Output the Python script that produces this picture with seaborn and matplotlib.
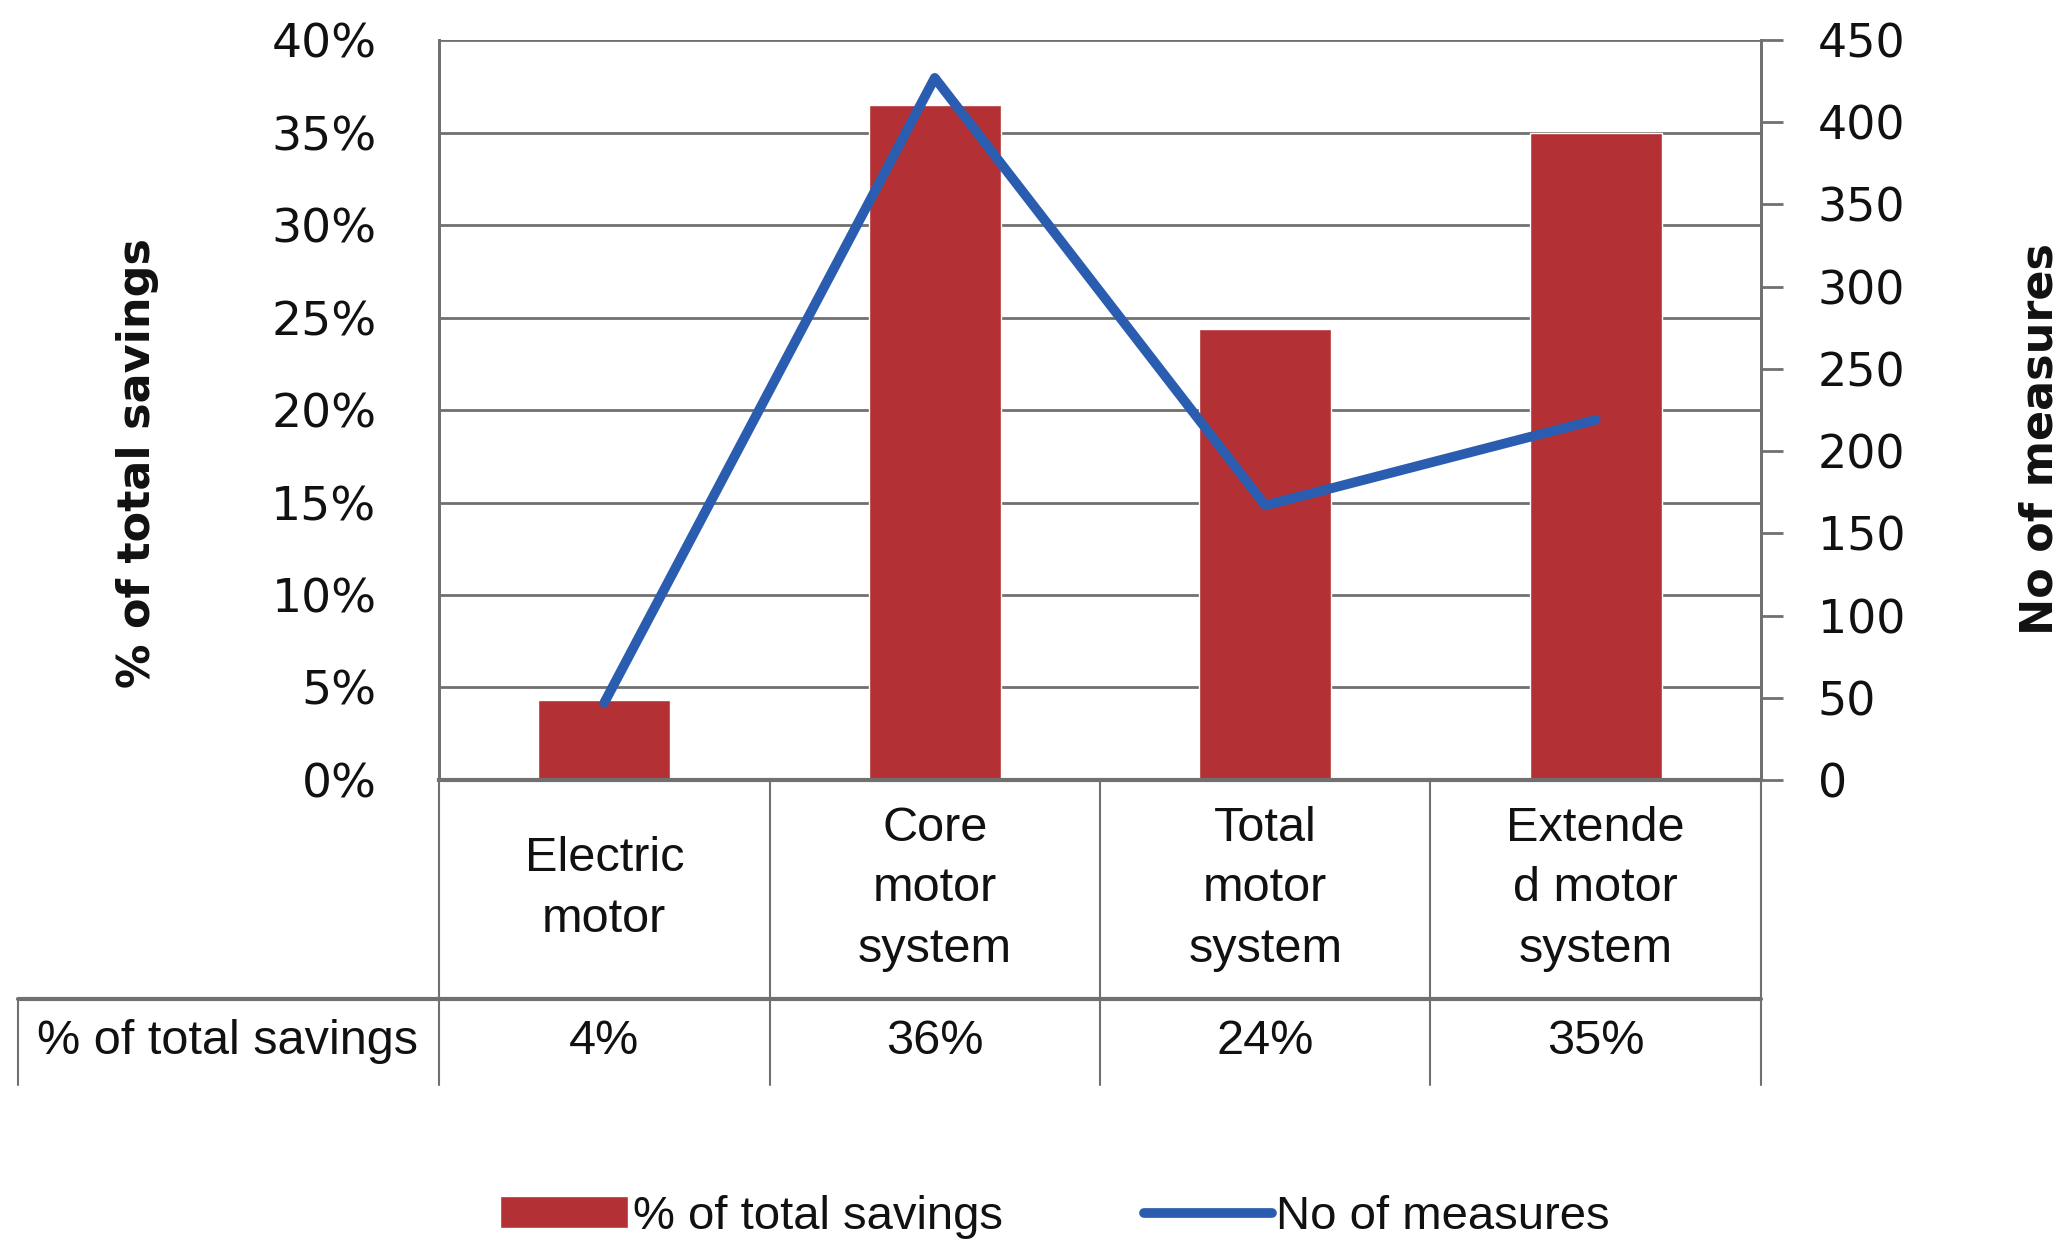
import numpy as np
import pandas as pd
import seaborn as sns
import matplotlib.pyplot as plt
from matplotlib.ticker import PercentFormatter
from matplotlib.transforms import blended_transform_factory

categories = ["Electric\nmotor", "Core\nmotor\nsystem", "Total\nmotor\nsystem", "Extende\nd motor\nsystem"]
pct_savings = [0.043, 0.365, 0.244, 0.350]
pct_labels = ["4%", "36%", "24%", "35%"]
n_measures = [47, 427, 167, 219]

sns.set_theme(style="white")
plt.rcParams['font.family'] = ['DejaVu Sans']
narrow = ['Liberation Sans', 'DejaVu Sans']

red = "#B33134"
blue = "#2A5DB0"
grey = "#707070"
ink = "#111111"

df = pd.DataFrame({"pos": np.arange(len(categories)), "pct": pct_savings, "n": n_measures})

fig = plt.figure(figsize=(20.69, 12.44), dpi=100)
ax = fig.add_axes([0.2122, 0.373, 0.8511 - 0.2122, 0.9678 - 0.373])

sns.barplot(data=df, x="pos", y="pct", color=red, width=0.4, saturation=1,
            ax=ax, label="% of total savings", zorder=2)
ax.set_xlim(-0.5, 3.5)
ax.set_ylim(0, 0.40)
ax.set_yticks(np.arange(0, 0.401, 0.05))
ax.yaxis.set_major_formatter(PercentFormatter(1.0, decimals=0))
ax.set_axisbelow(True)
ax.yaxis.grid(True, color=grey, lw=2)
ax.tick_params(axis='y', length=0, pad=45, labelsize=34, labelcolor=ink)
ax.tick_params(axis='x', length=0, labelbottom=False)
ax.set_xlabel("")
ax.set_ylabel("% of total savings", fontsize=32, fontweight='bold', color=ink)
ax.yaxis.set_label_coords(-0.212, 0.428)

ax2 = ax.twinx()
sns.lineplot(data=df, x="pos", y="n", color=blue, lw=7, ax=ax2,
             label="No of measures", zorder=3)
ax2.set_ylim(0, 450)
ax2.set_yticks(np.arange(0, 451, 50))
ax2.tick_params(axis='y', direction='out', length=16, width=2, color=grey,
                pad=25, labelsize=33, right=True, labelcolor=ink)
ax2.set_ylabel("No of measures", fontsize=32, fontweight='bold', color=ink)
ax2.yaxis.set_label_coords(1.195, 0.461)
ax2.grid(False)

for a in (ax, ax2):
    a.spines["top"].set_visible(False)
    for s in a.spines.values():
        s.set_color(grey)
        s.set_linewidth(2)
ax.spines["bottom"].set_linewidth(3)

handles, labels = [], []
for a in (ax, ax2):
    h, l = a.get_legend_handles_labels()
    handles += h
    labels += l
    if a.get_legend() is not None:
        a.get_legend().remove()

# data table under the axis
tr = blended_transform_factory(ax.transData, ax.transAxes)
y_head = -0.296
y_bottom = -0.412
x_left = -1.774
for xb in np.arange(-0.5, 3.6, 1.0):
    ax.plot([xb, xb], [0, y_bottom], color=grey, lw=1.5, transform=tr, clip_on=False)
ax.plot([x_left, x_left], [y_head, y_bottom], color=grey, lw=1.5, transform=tr, clip_on=False)
ax.plot([x_left, 3.5], [y_head, y_head], color=grey, lw=3, transform=tr, clip_on=False)

for i, cat in enumerate(categories):
    ax.text(i, -0.147, cat, transform=tr, ha='center', va='center',
            fontsize=35, family=narrow, linespacing=1.45, color=ink)
    ax.text(i, -0.353, pct_labels[i], transform=tr, ha='center', va='center',
            fontsize=35, family=narrow, color=ink)
ax.text(-1.14, -0.353, "% of total savings", transform=tr, ha='center', va='center',
        fontsize=35, family=narrow, color=ink)

fig.legend(handles, labels, loc='lower center', bbox_to_anchor=(0.51, -0.03),
           ncol=2, frameon=False, prop={'family': narrow, 'size': 34},
           handlelength=2.7, handleheight=0.65, columnspacing=3.0, handletextpad=0.1)
for t in fig.legends[0].get_texts():
    t.set_color(ink)

fig.savefig("out.png", dpi=100)
